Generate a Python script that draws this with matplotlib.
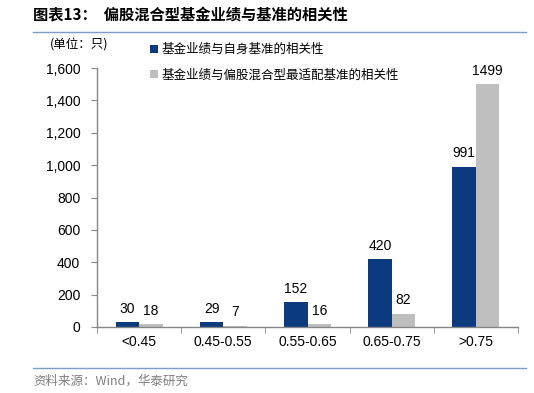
import numpy as np
import matplotlib.pyplot as plt
from matplotlib.lines import Line2D

plt.rcParams['font.family'] = ['Noto Sans CJK SC', 'DejaVu Sans']

categories = ['<0.45', '0.45-0.55', '0.55-0.65', '0.65-0.75', '>0.75']
own_bench = [30, 29, 152, 420, 991]
best_bench = [18, 7, 16, 82, 1499]
own_labels = ['30', '29', '152', '420', '991']
best_labels = ['18', '7', '16', '82', '1499']
series_names = ['基金业绩与自身基准的相关性', '基金业绩与偏股混合型最适配基准的相关性']

blue = '#0B3A7E'
grey = '#BFBFBF'
axis_col = '#868686'

fig = plt.figure(figsize=(5.34, 3.93), dpi=100)
ax = fig.add_axes([97 / 534, 1 - 327 / 393, (518 - 97) / 534, (327 - 68) / 393])

x = np.arange(len(categories))
w = 0.28
ax.bar(x - w / 2, own_bench, w, color=blue, label=series_names[0])
ax.bar(x + w / 2, best_bench, w, color=grey, label=series_names[1])

for i in range(len(x)):
    ax.text(x[i] - w / 2, own_bench[i] + 40, own_labels[i], ha='center', va='bottom',
            fontsize=10, family='Liberation Sans')
    ax.text(x[i] + w / 2, best_bench[i] + 40, best_labels[i], ha='center', va='bottom',
            fontsize=10, family='Liberation Sans')

ax.set_xlim(-0.5, 4.5)
ax.set_ylim(0, 1600)
ax.set_yticks(range(0, 1601, 200))
ax.set_yticklabels(['{:,}'.format(v) for v in range(0, 1601, 200)], family='Liberation Sans', fontsize=10)
ax.set_xticks(x)
ax.set_xticklabels(categories, family='Liberation Sans', fontsize=10)
ax.set_xticks(np.arange(-0.5, 4.6, 1), minor=True)
ax.tick_params(axis='x', which='major', length=0, pad=6)
ax.tick_params(axis='x', which='minor', length=4, direction='out', color=axis_col)
ax.tick_params(axis='y', length=4, direction='out', color=axis_col, pad=8)
for s in ['top', 'right']:
    ax.spines[s].set_visible(False)
for s in ['left', 'bottom']:
    ax.spines[s].set_color(axis_col)
    ax.spines[s].set_linewidth(1.0)

leg = ax.legend(loc='upper left', bbox_to_anchor=(0.1, 1.14), frameon=False, fontsize=9,
                handlelength=0.6, handleheight=0.6, handletextpad=0.3, labelspacing=1.0)

fig.text(50 / 534, 1 - 44 / 393, '(单位：只)', fontsize=9, va='center')
fig.text(33 / 534, 1 - 15 / 393, '图表13：  偏股混合型基金业绩与基准的相关性', fontsize=11,
         fontweight='bold', va='center')
fig.add_artist(Line2D([33 / 534, 526 / 534], [1 - 32 / 393, 1 - 32 / 393], color='#7F9DC8', lw=1))
fig.add_artist(Line2D([33 / 534, 526 / 534], [1 - 368 / 393, 1 - 368 / 393], color='#7F9DC8', lw=1))
fig.text(33 / 534, 1 - 381 / 393, '资料来源：Wind，华泰研究', fontsize=9, color='#7F7F7F', va='center')

fig.savefig('out.png', dpi=100)
